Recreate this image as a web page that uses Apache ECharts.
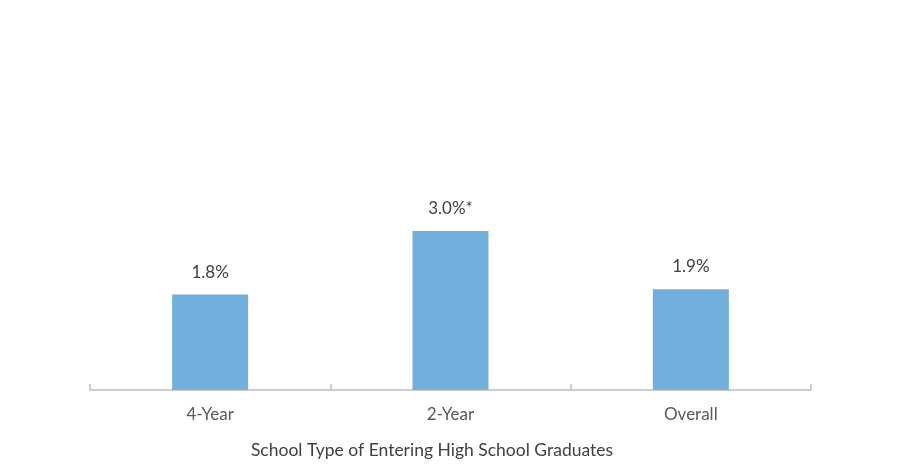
<!DOCTYPE html>
<html><head><meta charset="utf-8">
<script src="https://cdn.jsdelivr.net/npm/echarts@6/dist/echarts.min.js"></script>
<style>html,body{margin:0;padding:0;background:#fff}#c{width:900px;height:475px}</style>
</head><body><div id="c"></div>
<script>
const categories = ["4-Year", "2-Year", "Overall"];
const values = [1.8, 3.0, 1.9];
const labels = ["1.8%", "3.0%*", "1.9%"];
const axisTitle = "School Type of Entering High School Graduates";

const chart = echarts.init(document.getElementById('c'));
chart.setOption({
  animation: false,
  grid: {left: 90, right: 89, top: 19, bottom: 85},
  xAxis: {
    type: 'category', data: categories,
    axisLine: {show: true, lineStyle: {color: '#BFBFBF', width: 1.5}},
    axisTick: {show: true, inside: true, length: 6, interval: 0, lineStyle: {color: '#BFBFBF', width: 1.5}},
    axisLabel: {color: '#595959', fontFamily: 'Lato', fontSize: 17, margin: 16},
    name: axisTitle, nameLocation: 'middle', nameGap: 51,
    nameTextStyle: {color: '#404040', fontFamily: 'Lato', fontSize: 17.5, padding: [0, 37, 0, 0]}
  },
  yAxis: {type: 'value', min: 0, max: 7, show: false, splitLine: {show: false}},
  series: [{
    type: 'bar', barWidth: 76,
    data: values,
    itemStyle: {color: '#72AFDC'},
    label: {show: true, position: 'top', distance: 14, color: '#404040', fontFamily: 'Lato', fontSize: 17,
      formatter: p => labels[p.dataIndex]}
  }]
});
</script></body></html>
